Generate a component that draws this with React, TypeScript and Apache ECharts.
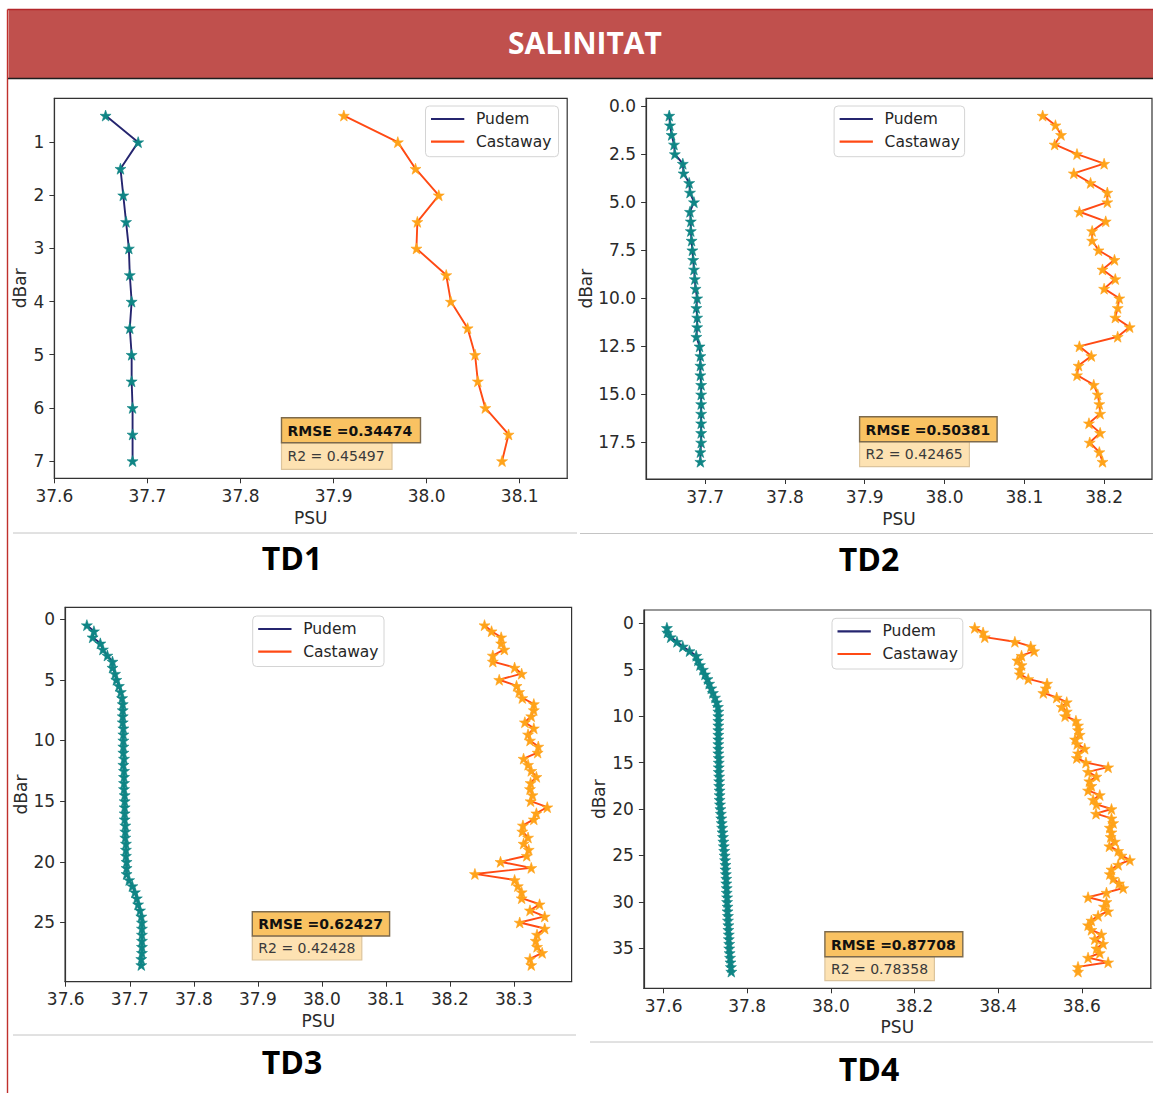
import React, { useEffect, useRef } from "react";
import * as echarts from "echarts";

// ---------------- DATA ----------------
const TITLE = "SALINITAT";
const PANEL_NAMES = ["TD1", "TD2", "TD3", "TD4"];
const SERIES_NAMES = ["Pudem", "Castaway"];
const RMSE_VALUES = ["0.34474", "0.50381", "0.62427", "0.87708"];
const R2_VALUES = ["0.45497", "0.42465", "0.42428", "0.78358"];

const TD1_DEPTH = [0.5, 1, 1.5, 2, 2.5, 3, 3.5, 4, 4.5, 5, 5.5, 6, 6.5, 7];
const TD1_PUDEM = [37.655, 37.69, 37.671, 37.674, 37.677, 37.68, 37.681, 37.683, 37.681, 37.683, 37.683, 37.684, 37.684, 37.684];
const TD1_CASTAWAY = [37.911, 37.969, 37.988, 38.013, 37.99, 37.989, 38.021, 38.026, 38.044, 38.052, 38.055, 38.063, 38.088, 38.081];

const TD2_DEPTH = [0.5, 1, 1.5, 2, 2.5, 3, 3.5, 4, 4.5, 5, 5.5, 6, 6.5, 7, 7.5, 8, 8.5, 9, 9.5, 10, 10.5, 11, 11.5, 12, 12.5, 13, 13.5, 14, 14.5, 15, 15.5, 16, 16.5, 17, 17.5, 18, 18.5];
const TD2_PUDEM = [37.655, 37.656, 37.658, 37.661, 37.662, 37.672, 37.673, 37.68, 37.681, 37.686, 37.681, 37.682, 37.682, 37.683, 37.684, 37.685, 37.686, 37.687, 37.688, 37.69, 37.689, 37.69, 37.69, 37.689, 37.693, 37.694, 37.694, 37.694, 37.695, 37.695, 37.695, 37.695, 37.695, 37.695, 37.695, 37.694, 37.694];
const TD2_CASTAWAY = [38.123, 38.139, 38.146, 38.138, 38.166, 38.2, 38.162, 38.183, 38.204, 38.204, 38.169, 38.202, 38.185, 38.185, 38.193, 38.213, 38.198, 38.214, 38.2, 38.219, 38.217, 38.214, 38.232, 38.217, 38.169, 38.184, 38.168, 38.166, 38.187, 38.192, 38.194, 38.195, 38.181, 38.195, 38.182, 38.194, 38.198];

const TD3_DEPTH = [0.5, 1, 1.5, 2, 2.5, 3, 3.5, 4, 4.5, 5, 5.5, 6, 6.5, 7, 7.5, 8, 8.5, 9, 9.5, 10, 10.5, 11, 11.5, 12, 12.5, 13, 13.5, 14, 14.5, 15, 15.5, 16, 16.5, 17, 17.5, 18, 18.5, 19, 19.5, 20, 20.5, 21, 21.5, 22, 22.5, 23, 23.5, 24, 24.5, 25, 25.5, 26, 26.5, 27, 27.5, 28, 28.5];
const TD3_PUDEM = [37.633, 37.644, 37.642, 37.654, 37.658, 37.665, 37.673, 37.673, 37.677, 37.679, 37.683, 37.686, 37.688, 37.689, 37.689, 37.689, 37.689, 37.69, 37.69, 37.69, 37.69, 37.69, 37.691, 37.69, 37.691, 37.691, 37.691, 37.691, 37.692, 37.692, 37.692, 37.692, 37.692, 37.693, 37.693, 37.693, 37.694, 37.694, 37.694, 37.695, 37.695, 37.695, 37.699, 37.704, 37.708, 37.711, 37.713, 37.716, 37.718, 37.719, 37.719, 37.719, 37.719, 37.719, 37.719, 37.718, 37.718];
const TD3_CASTAWAY = [38.254, 38.265, 38.28, 38.28, 38.285, 38.267, 38.267, 38.301, 38.312, 38.277, 38.304, 38.308, 38.313, 38.331, 38.331, 38.327, 38.317, 38.331, 38.322, 38.325, 38.338, 38.337, 38.315, 38.322, 38.327, 38.335, 38.326, 38.325, 38.329, 38.326, 38.352, 38.335, 38.331, 38.314, 38.313, 38.322, 38.315, 38.323, 38.32, 38.279, 38.327, 38.239, 38.301, 38.306, 38.312, 38.312, 38.34, 38.325, 38.348, 38.309, 38.348, 38.336, 38.334, 38.336, 38.344, 38.325, 38.327];

const TD4_DEPTH = [0.5, 1, 1.5, 2, 2.5, 3, 3.5, 4, 4.5, 5, 5.5, 6, 6.5, 7, 7.5, 8, 8.5, 9, 9.5, 10, 10.5, 11, 11.5, 12, 12.5, 13, 13.5, 14, 14.5, 15, 15.5, 16, 16.5, 17, 17.5, 18, 18.5, 19, 19.5, 20, 20.5, 21, 21.5, 22, 22.5, 23, 23.5, 24, 24.5, 25, 25.5, 26, 26.5, 27, 27.5, 28, 28.5, 29, 29.5, 30, 30.5, 31, 31.5, 32, 32.5, 33, 33.5, 34, 34.5, 35, 35.5, 36, 36.5, 37, 37.5];
const TD4_PUDEM = [37.608, 37.609, 37.617, 37.632, 37.646, 37.662, 37.678, 37.682, 37.687, 37.694, 37.699, 37.705, 37.709, 37.714, 37.718, 37.723, 37.727, 37.73, 37.731, 37.731, 37.731, 37.731, 37.731, 37.731, 37.731, 37.731, 37.731, 37.731, 37.732, 37.732, 37.732, 37.732, 37.733, 37.733, 37.733, 37.734, 37.734, 37.734, 37.735, 37.736, 37.737, 37.738, 37.739, 37.74, 37.741, 37.742, 37.743, 37.744, 37.745, 37.746, 37.747, 37.748, 37.748, 37.749, 37.75, 37.75, 37.751, 37.751, 37.752, 37.752, 37.753, 37.753, 37.754, 37.754, 37.755, 37.755, 37.756, 37.756, 37.757, 37.757, 37.758, 37.759, 37.76, 37.761, 37.762];
const TD4_CASTAWAY = [38.344, 38.364, 38.368, 38.44, 38.478, 38.486, 38.456, 38.446, 38.456, 38.452, 38.452, 38.472, 38.517, 38.514, 38.508, 38.54, 38.564, 38.552, 38.564, 38.56, 38.586, 38.591, 38.591, 38.595, 38.584, 38.589, 38.607, 38.591, 38.588, 38.61, 38.663, 38.615, 38.635, 38.618, 38.623, 38.615, 38.643, 38.627, 38.635, 38.671, 38.634, 38.671, 38.675, 38.667, 38.671, 38.669, 38.679, 38.666, 38.687, 38.695, 38.715, 38.687, 38.671, 38.667, 38.675, 38.689, 38.699, 38.659, 38.615, 38.659, 38.653, 38.663, 38.639, 38.623, 38.615, 38.623, 38.647, 38.631, 38.651, 38.635, 38.643, 38.615, 38.663, 38.591, 38.591];

const TD1_X_TICKS = [37.6, 37.7, 37.8, 37.9, 38.0, 38.1];
const TD1_Y_TICKS = [1, 2, 3, 4, 5, 6, 7];
const TD2_X_TICKS = [37.7, 37.8, 37.9, 38.0, 38.1, 38.2];
const TD2_Y_TICKS = [0, 2.5, 5, 7.5, 10, 12.5, 15, 17.5];
const TD3_X_TICKS = [37.6, 37.7, 37.8, 37.9, 38.0, 38.1, 38.2, 38.3];
const TD3_Y_TICKS = [0, 5, 10, 15, 20, 25];
const TD4_X_TICKS = [37.6, 37.8, 38.0, 38.2, 38.4, 38.6];
const TD4_Y_TICKS = [0, 5, 10, 15, 20, 25, 30, 35];

// ---------------- STYLE / LAYOUT ----------------
const STAR = "path://M50,0 L61.8,35.1 L97.6,34.5 L68.8,56 L79.4,90.5 L50,69.8 L20.6,90.5 L31.2,56 L2.4,34.5 L38.2,35.1 Z";
const PUDEM_LINE = "#25256f";
const PUDEM_MARK = "#0f8585";
const CAST_LINE = "#ff4a14";
const CAST_MARK = "#ffa31a";
const AXIS_COLOR = "#333333";
const FONT = "DejaVu Sans";

const PANELS = [
  {
    grid: { left: 54.4, top: 98.3, width: 512.8, height: 380 },
    xr: [37.6, 38.151], yr: [0.175, 7.325], xt: TD1_X_TICKS, yt: TD1_Y_TICKS, yDec: 0,
    depth: TD1_DEPTH, pudem: TD1_PUDEM, cast: TD1_CASTAWAY, yGap: 25.5, xGap: 31,
    legend: { x: 425.5, y: 106, w: 133, h: 50.7 },
    box: { x: 281.5, y: 417.7, w1: 139, w2: 110.5, h1: 25, h2: 26.6 },
    label: { x: 292, y: 557 }, sep: { x1: 13, x2: 577, y: 533 },
  },
  {
    grid: { left: 646.1, top: 98.3, width: 505.9, height: 380.7 },
    xr: [37.626, 38.26], yr: [-0.4, 19.4], xt: TD2_X_TICKS, yt: TD2_Y_TICKS, yDec: 1,
    depth: TD2_DEPTH, pudem: TD2_PUDEM, cast: TD2_CASTAWAY, yGap: 51.5, xGap: 31,
    legend: { x: 834.1, y: 106, w: 130.5, h: 50.7 },
    box: { x: 859.6, y: 416.7, w1: 137.5, w2: 109.8, h1: 25, h2: 25 },
    label: { x: 869, y: 558 }, sep: { x1: 580, x2: 1153, y: 533.5 },
  },
  {
    grid: { left: 65.1, top: 607.3, width: 506.5, height: 374.4 },
    xr: [37.599, 38.39], yr: [-0.97, 29.88], xt: TD3_X_TICKS, yt: TD3_Y_TICKS, yDec: 0,
    depth: TD3_DEPTH, pudem: TD3_PUDEM, cast: TD3_CASTAWAY, yGap: 36, xGap: 31,
    legend: { x: 252.7, y: 616, w: 131.3, h: 50.5 },
    box: { x: 252.3, y: 911.7, w1: 137.3, w2: 109.5, h1: 24.3, h2: 24 },
    label: { x: 292, y: 1061 }, sep: { x1: 13, x2: 576, y: 1035 },
  },
  {
    grid: { left: 643.9, top: 610, width: 506.9, height: 378.3 },
    xr: [37.553, 38.765], yr: [-1.42, 39.3], xt: TD4_X_TICKS, yt: TD4_Y_TICKS, yDec: 0,
    depth: TD4_DEPTH, pudem: TD4_PUDEM, cast: TD4_CASTAWAY, yGap: 36.5, xGap: 30.5,
    legend: { x: 832, y: 618.3, w: 130.8, h: 50.7 },
    box: { x: 824.9, y: 931.7, w1: 137.9, w2: 109.5, h1: 25, h2: 24 },
    label: { x: 869, y: 1068 }, sep: { x1: 590, x2: 1153, y: 1042 },
  },
];

function buildOption() {
  const grid: any[] = [];
  const xAxis: any[] = [];
  const yAxis: any[] = [];
  const series: any[] = [];
  const elements: any[] = [];

  // header
  elements.push(
    { type: "rect", shape: { x: 8.5, y: 10, width: 1145, height: 68 }, style: { fill: "#c0504d" }, z: 1 },
    { type: "line", shape: { x1: 7.5, y1: 9.5, x2: 1153, y2: 9.5 }, style: { stroke: "#b3262a", lineWidth: 1.3 }, z: 2 },
    { type: "line", shape: { x1: 7.5, y1: 9.5, x2: 7.5, y2: 1093 }, style: { stroke: "#c0302c", lineWidth: 1.4 }, z: 2 },
    { type: "line", shape: { x1: 8, y1: 78.5, x2: 1153, y2: 78.5 }, style: { stroke: "#1e1e1e", lineWidth: 1.4 }, z: 2 },
    {
      type: "text", x: 585, y: 42, z: 3,
      style: { text: TITLE, fill: "#ffffff", font: "bold 30px 'Open Sans'", textAlign: "center", textVerticalAlign: "middle" },
    }
  );

  PANELS.forEach((p, i) => {
    grid.push({ ...p.grid, show: true, borderColor: AXIS_COLOR, borderWidth: 1.2, backgroundColor: "transparent", containLabel: false });
    xAxis.push({
      type: "value", gridIndex: i, min: p.xr[0], max: p.xr[1],
      name: "PSU", nameLocation: "middle", nameGap: p.xGap,
      nameTextStyle: { fontSize: 17, fontFamily: FONT, color: "#2a2a2a" },
      axisLine: { show: true, onZero: false, lineStyle: { color: AXIS_COLOR, width: 1.2 } },
      axisTick: { show: true, length: 5, customValues: p.xt, lineStyle: { color: AXIS_COLOR, width: 1 } },
      axisLabel: {
        customValues: p.xt, margin: 9, fontSize: 17, fontFamily: FONT, color: "#2a2a2a",
        formatter: (v: number) => v.toFixed(1),
      },
      splitLine: { show: false },
    });
    yAxis.push({
      type: "value", gridIndex: i, min: p.yr[0], max: p.yr[1], inverse: true,
      name: "dBar", nameLocation: "middle", nameGap: p.yGap, nameRotate: 90,
      nameTextStyle: { fontSize: 17, fontFamily: FONT, color: "#2a2a2a" },
      axisLine: { show: true, onZero: false, lineStyle: { color: AXIS_COLOR, width: 1.2 } },
      axisTick: { show: true, length: 5, customValues: p.yt, lineStyle: { color: AXIS_COLOR, width: 1 } },
      axisLabel: {
        customValues: p.yt, margin: 10, fontSize: 17, fontFamily: FONT, color: "#2a2a2a",
        formatter: (v: number) => v.toFixed(p.yDec),
      },
      splitLine: { show: false },
    });
    series.push(
      {
        name: SERIES_NAMES[0], type: "line", xAxisIndex: i, yAxisIndex: i,
        data: p.depth.map((d, k) => [p.pudem[k], d]),
        symbol: STAR, symbolSize: 11, showAllSymbol: true, silent: true,
        lineStyle: { color: PUDEM_LINE, width: 1.9 },
        itemStyle: { color: PUDEM_MARK, borderColor: PUDEM_MARK, borderWidth: 0.6 },
        emphasis: { disabled: true }, z: 3,
      },
      {
        name: SERIES_NAMES[1], type: "line", xAxisIndex: i, yAxisIndex: i,
        data: p.depth.map((d, k) => [p.cast[k], d]),
        symbol: STAR, symbolSize: 11, showAllSymbol: true, silent: true,
        lineStyle: { color: CAST_LINE, width: 1.9 },
        itemStyle: { color: CAST_MARK, borderColor: CAST_MARK, borderWidth: 0.6 },
        emphasis: { disabled: true }, z: 4,
      }
    );

    // legend (drawn as graphics, matplotlib style)
    const L = p.legend;
    elements.push(
      { type: "rect", shape: { x: L.x, y: L.y, width: L.w, height: L.h, r: 4 }, style: { fill: "rgba(255,255,255,0.85)", stroke: "#d4d4d4", lineWidth: 1 }, z: 50 },
      { type: "line", shape: { x1: L.x + 5.5, y1: L.y + 13, x2: L.x + 38.8, y2: L.y + 13 }, style: { stroke: PUDEM_LINE, lineWidth: 2.2 }, z: 51 },
      { type: "line", shape: { x1: L.x + 5.5, y1: L.y + 35.7, x2: L.x + 38.8, y2: L.y + 35.7 }, style: { stroke: CAST_LINE, lineWidth: 2.2 }, z: 51 },
      { type: "text", x: L.x + 50.5, y: L.y + 13, z: 51, style: { text: SERIES_NAMES[0], fill: "#262626", font: `15.5px '${FONT}'`, textAlign: "left", textVerticalAlign: "middle" } },
      { type: "text", x: L.x + 50.5, y: L.y + 35.7, z: 51, style: { text: SERIES_NAMES[1], fill: "#262626", font: `15.5px '${FONT}'`, textAlign: "left", textVerticalAlign: "middle" } }
    );

    // RMSE / R2 boxes
    const B = p.box;
    elements.push(
      { type: "rect", shape: { x: B.x, y: B.y + B.h1, width: B.w2, height: B.h2 }, style: { fill: "#fde2b2", stroke: "#dcc49c", lineWidth: 1.2 }, z: 52 },
      { type: "rect", shape: { x: B.x, y: B.y, width: B.w1, height: B.h1 }, style: { fill: "#f9c262", stroke: "#7d6a4c", lineWidth: 1.4 }, z: 53 },
      { type: "text", x: B.x + 6, y: B.y + B.h1 / 2 + 0.5, z: 54, style: { text: "RMSE =" + RMSE_VALUES[i], fill: "#111111", font: `bold 14px '${FONT}'`, textAlign: "left", textVerticalAlign: "middle" } },
      { type: "text", x: B.x + 6, y: B.y + B.h1 + B.h2 / 2, z: 54, style: { text: "R2 = " + R2_VALUES[i], fill: "#3a3a3a", font: `14px '${FONT}'`, textAlign: "left", textVerticalAlign: "middle" } }
    );

    // separator + panel label
    elements.push(
      { type: "line", shape: { x1: p.sep.x1, y1: p.sep.y, x2: p.sep.x2, y2: p.sep.y }, style: { stroke: "#c4c4c4", lineWidth: 1 }, z: 2 },
      { type: "text", x: p.label.x, y: p.label.y, z: 3, style: { text: PANEL_NAMES[i], fill: "#000000", font: "bold 32px 'Open Sans'", textAlign: "center", textVerticalAlign: "middle" } }
    );
  });

  return {
    animation: false,
    backgroundColor: "#ffffff",
    grid, xAxis, yAxis, series,
    graphic: { elements },
  };
}

export default function App() {
  const ref = useRef<HTMLDivElement>(null);
  useEffect(() => {
    if (!ref.current) return;
    const chart = echarts.init(ref.current, null, { renderer: "svg" });
    chart.setOption(buildOption() as any);
    return () => chart.dispose();
  }, []);
  return (
    <div
      ref={ref}
      style={{ position: "absolute", left: 0, top: 0, width: 1153, height: 1093, background: "#fff" }}
    />
  );
}
